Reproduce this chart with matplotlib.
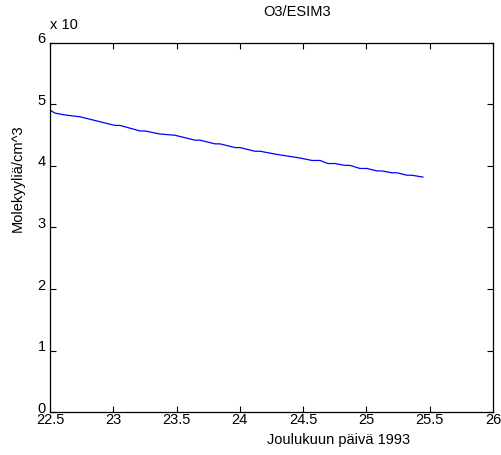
import matplotlib
matplotlib.use("Agg")
import matplotlib.pyplot as plt
import matplotlib.transforms as mtransforms

# values (day of December 1993, concentration / 10^x)
days = [22.500, 22.539, 22.618, 22.737, 22.855, 23.013, 23.053, 23.211, 23.250,
        23.369, 23.487, 23.645, 23.685, 23.803, 23.843, 23.961, 24.001, 24.119,
        24.159, 24.317, 24.475, 24.570, 24.633, 24.696, 24.751, 24.830, 24.870,
        24.949, 25.004, 25.083, 25.122, 25.201, 25.241, 25.320, 25.359, 25.446]
o3 = [4.91, 4.86, 4.83, 4.80, 4.74, 4.66, 4.66, 4.57, 4.57,
      4.52, 4.50, 4.42, 4.42, 4.36, 4.36, 4.30, 4.30, 4.24,
      4.24, 4.18, 4.13, 4.09, 4.09, 4.04, 4.04, 4.01, 4.01,
      3.96, 3.96, 3.92, 3.92, 3.89, 3.89, 3.85, 3.85, 3.82]
xticks = [22.5, 23, 23.5, 24, 24.5, 25, 25.5, 26]
xticklabels = ["22.5", "23", "23.5", "24", "24.5", "25", "25.5", "26"]
yticks = [0, 1, 2, 3, 4, 5, 6]

plt.rcParams["font.family"] = ["Liberation Sans", "DejaVu Sans"]
fs = 10.5

fig = plt.figure(figsize=(5.02, 4.55), dpi=100)
ax = fig.add_axes([0.0996, 0.0945, 0.8824, 0.811])
ax.plot(days, o3, color="#0000ff", linewidth=0.9)

ax.set_xlim(22.5, 26)
ax.set_ylim(0, 6)
ax.set_xticks(xticks)
ax.set_xticklabels(xticklabels, fontsize=fs)
ax.set_yticks(yticks)
ax.set_yticklabels([str(v) for v in yticks], fontsize=fs)
ax.tick_params(direction="in", top=True, right=True, length=4, width=0.8)
ax.tick_params(axis="x", pad=0.5)
ax.tick_params(axis="y", pad=3)
for s in ax.spines.values():
    s.set_linewidth(0.9)

# y tick labels sit a little above their ticks, as in the original
up = mtransforms.ScaledTranslation(0, 5 / 100, fig.dpi_scale_trans)
for lab in ax.get_yticklabels():
    lab.set_transform(lab.get_transform() + up)

fig.text(263 / 502, 1 - 12 / 455, "O3/ESIM3", fontsize=fs, ha="left", va="center")
fig.text(267 / 502, 1 - 440 / 455, "Joulukuun päivä 1993", fontsize=fs, ha="left", va="center")
fig.text(18 / 502, 1 - 178 / 455, "Molekyyliä/cm^3", fontsize=fs, rotation=90,
         ha="center", va="center")
fig.text(50 / 502, 1 - 25 / 455, "x 10", fontsize=fs, ha="left", va="center")

plt.savefig("out.png", dpi=100)
